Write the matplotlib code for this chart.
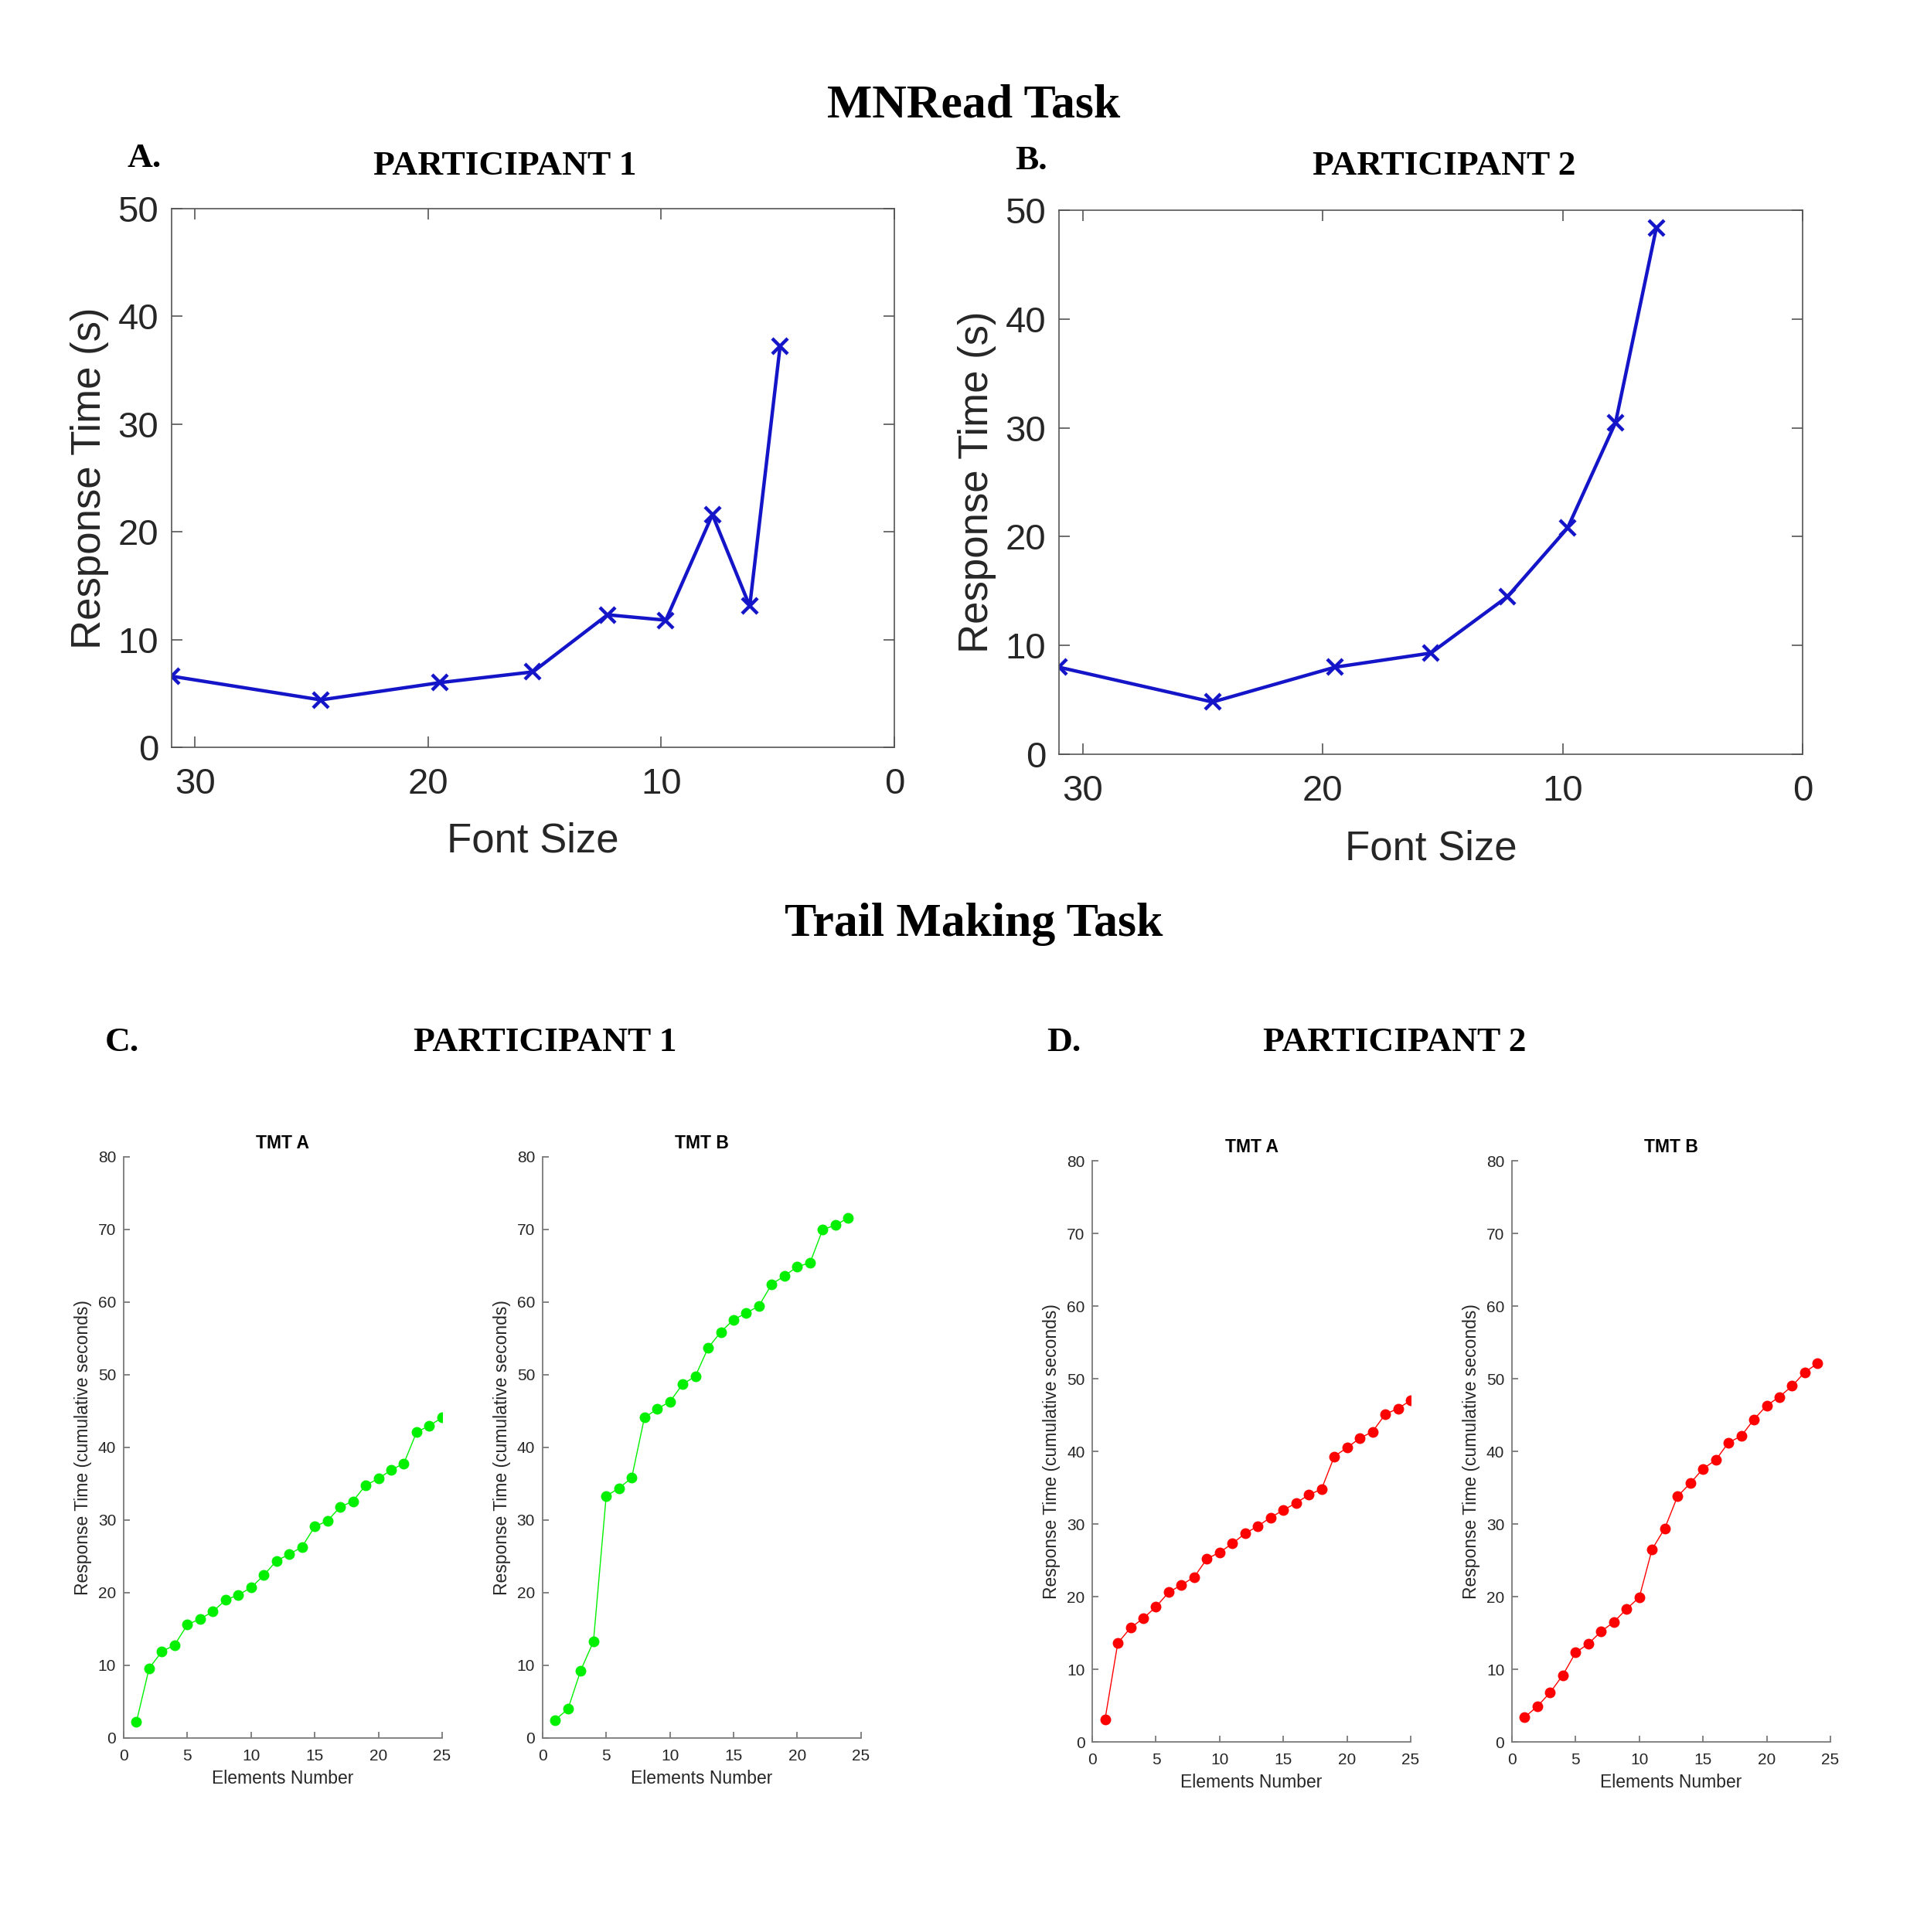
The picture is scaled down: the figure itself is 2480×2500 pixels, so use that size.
import matplotlib
matplotlib.use("Agg")
import matplotlib.pyplot as plt

# MNRead: font size (reversed x axis) vs reading time
font_sizes_p1 = [31.0, 24.6, 19.5, 15.5, 12.3, 9.8, 7.8, 6.2, 4.9]
mnread_p1 = [6.6, 4.4, 6.0, 7.0, 12.3, 11.8, 21.6, 13.1, 37.2]
font_sizes_p2 = [31.0, 24.6, 19.5, 15.5, 12.3, 9.8, 7.8, 6.1]
mnread_p2 = [8.0, 4.8, 8.0, 9.3, 14.5, 20.8, 30.5, 48.4]

# Trail Making: cumulative response time per element
tmt_a_p1 = [2.2, 9.6, 11.9, 12.8, 15.6, 16.4, 17.4, 19.0, 19.7, 20.7, 22.4, 24.4, 25.3,
            26.3, 29.1, 29.9, 31.8, 32.6, 34.8, 35.7, 36.9, 37.8, 42.1, 43.0, 44.1]
tmt_b_p1 = [2.5, 4.0, 9.3, 13.3, 33.3, 34.4, 35.8, 44.1, 45.3, 46.3, 48.7, 49.8,
            53.7, 55.9, 57.6, 58.5, 59.5, 62.5, 63.6, 64.9, 65.4, 70.0, 70.6, 71.6]
tmt_a_p2 = [3.1, 13.6, 15.7, 17.0, 18.6, 20.6, 21.6, 22.7, 25.2, 26.1, 27.3, 28.7, 29.7,
            30.9, 31.9, 32.9, 34.0, 34.8, 39.3, 40.5, 41.8, 42.7, 45.1, 45.9, 47.0]
tmt_b_p2 = [3.4, 4.9, 6.8, 9.2, 12.3, 13.5, 15.2, 16.5, 18.3, 19.9, 26.5, 29.4,
            33.8, 35.6, 37.6, 38.8, 41.2, 42.1, 44.4, 46.3, 47.5, 49.0, 50.9, 52.1]

mnread_ticks = [30, 20, 10, 0]
mnread_yticks = [0, 10, 20, 30, 40, 50]
tmt_xticks = [0, 5, 10, 15, 20, 25]
tmt_yticks = [0, 10, 20, 30, 40, 50, 60, 70, 80]

SANS = ["Liberation Sans", "DejaVu Sans"]
SERIF = ["Liberation Serif", "DejaVu Serif"]
TXT = "#262626"

fig = plt.figure(figsize=(24.8, 25.0), dpi=100)
fig.patch.set_facecolor("white")


def mnread_panel(rect, xs, ys, lab_x):
    ax = fig.add_axes(rect)
    ax.plot(xs, ys, color="#1414c8", lw=3.2, marker="x", ms=15, mew=3.2)
    ax.set_xlim(31, 0)
    ax.set_ylim(0, 50)
    ax.set_xticks(mnread_ticks)
    ax.set_yticks(mnread_yticks)
    ax.tick_params(direction="in", length=10, width=1.2, colors="#555555",
                   labelcolor=TXT, labelsize=34, top=True, right=True)
    ax.tick_params(axis="x", pad=19)
    ax.tick_params(axis="y", pad=12)
    for lbl in ax.get_xticklabels() + ax.get_yticklabels():
        lbl.set_family(SANS)
    for sp in ax.spines.values():
        sp.set_color("#555555")
        sp.set_linewidth(1.2)
    ax.set_xlabel("Font Size", fontsize=38, family=SANS, color=TXT)
    ax.set_ylabel("Response Time (s)", fontsize=38, family=SANS, color=TXT)
    ax.xaxis.set_label_coords(0.5, -0.138)
    ax.yaxis.set_label_coords(lab_x, 0.5)
    return ax


def tmt_panel(rect, ys, color, title):
    ax = fig.add_axes(rect)
    xs = list(range(1, len(ys) + 1))
    ax.plot(xs, ys, color=color, lw=1.0, marker="o", ms=9, mec=color, mfc=color)
    ax.set_xlim(0, 25)
    ax.set_ylim(0, 80)
    ax.set_xticks(tmt_xticks)
    ax.set_yticks(tmt_yticks)
    for side in ("top", "right"):
        ax.spines[side].set_visible(False)
    for side in ("left", "bottom"):
        ax.spines[side].set_color("#7a7a7a")
        ax.spines[side].set_linewidth(1.3)
    ax.tick_params(direction="in", length=6, width=1.3, colors="#7a7a7a",
                   labelcolor=TXT, labelsize=15)
    ax.tick_params(axis="x", pad=10)
    ax.tick_params(axis="y", pad=7)
    for lbl in ax.get_xticklabels() + ax.get_yticklabels():
        lbl.set_family(SANS)
    ax.set_xlabel("Elements Number", fontsize=16.5, family=SANS, color=TXT)
    ax.set_ylabel("Response Time (cumulative seconds)", fontsize=16.5, family=SANS, color=TXT)
    ax.xaxis.set_label_coords(0.5, -0.054)
    ax.yaxis.set_label_coords(-0.099, 0.5)
    ax.set_title(title, fontsize=16.5, fontweight="bold", family=SANS, pad=8)
    return ax


mnread_panel([0.0895, 0.6132, 0.3770, 0.2788], font_sizes_p1, mnread_p1, -0.087)
mnread_panel([0.5524, 0.6096, 0.3880, 0.2816], font_sizes_p2, mnread_p2, -0.084)

tmt_panel([0.0645, 0.1004, 0.1661, 0.3008], tmt_a_p1, "#00f000", "TMT A")
tmt_panel([0.2830, 0.1004, 0.1661, 0.3008], tmt_b_p1, "#00f000", "TMT B")
tmt_panel([0.5698, 0.0984, 0.1661, 0.3008], tmt_a_p2, "#ff0000", "TMT A")
tmt_panel([0.7887, 0.0984, 0.1661, 0.3008], tmt_b_p2, "#ff0000", "TMT B")

# headings
bold = dict(family=SERIF, fontweight="bold", color="black", va="center")
fig.text(0.508, 0.9455, "MNRead Task", fontsize=44.5, ha="center", **bold)
fig.text(0.508, 0.5215, "Trail Making Task", fontsize=44.5, ha="center", **bold)
fig.text(0.0665, 0.9180, "A.", fontsize=32.7, ha="left", **bold)
fig.text(0.2636, 0.9140, "PARTICIPANT 1", fontsize=32.7, ha="center", **bold)
fig.text(0.5297, 0.9168, "B.", fontsize=32.7, ha="left", **bold)
fig.text(0.7532, 0.9140, "PARTICIPANT 2", fontsize=32.7, ha="center", **bold)
fig.text(0.0548, 0.4605, "C.", fontsize=32.7, ha="left", **bold)
fig.text(0.2842, 0.4605, "PARTICIPANT 1", fontsize=32.7, ha="center", **bold)
fig.text(0.5460, 0.4605, "D.", fontsize=32.7, ha="left", **bold)
fig.text(0.7275, 0.4605, "PARTICIPANT 2", fontsize=32.7, ha="center", **bold)

fig.savefig("out.png", dpi=100, facecolor="white")
